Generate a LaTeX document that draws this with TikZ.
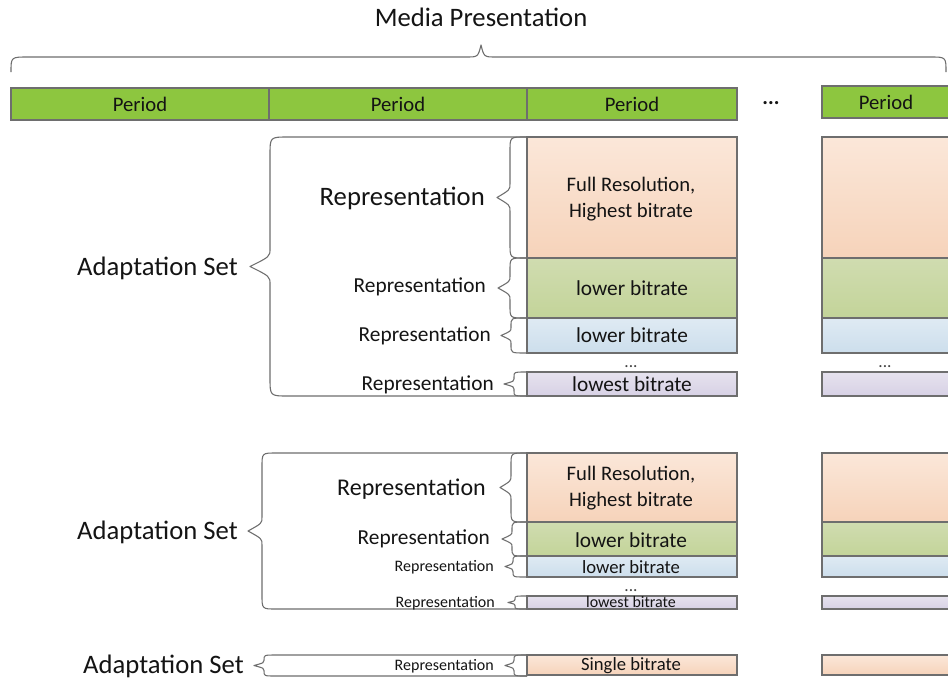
\documentclass[tikz,border=0pt]{standalone}
\usepackage{fontspec}
\setmainfont{Carlito}
\definecolor{pgreen}{RGB}{141,198,63}
\definecolor{ortop}{RGB}{251,231,217}
\definecolor{orbot}{RGB}{246,211,186}
\definecolor{grtop}{RGB}{208,220,176}
\definecolor{grbot}{RGB}{195,212,153}
\definecolor{bltop}{RGB}{223,234,243}
\definecolor{blbot}{RGB}{204,222,236}
\definecolor{putop}{RGB}{230,226,238}
\definecolor{pubot}{RGB}{215,209,229}
\definecolor{boxgray}{RGB}{110,110,110}
\definecolor{bracegray}{RGB}{110,110,110}
\definecolor{txt}{RGB}{20,20,20}
\newcommand{\fsz}[2]{\fontsize{#1}{#2}\selectfont}
\tikzset{
  braceline/.style={draw=bracegray, line width=0.8pt, line join=round},
  boxbase/.style={draw=boxgray, line width=0.9pt, inner sep=0pt, outer sep=0pt, anchor=north west},
  periodbox/.style={boxbase, fill=pgreen},
  orbox/.style={boxbase, top color=ortop, bottom color=orbot},
  grbox/.style={boxbase, top color=grtop, bottom color=grbot},
  blbox/.style={boxbase, top color=bltop, bottom color=blbot},
  pubox/.style={boxbase, top color=putop, bottom color=pubot},
  lbl/.style={text=txt, inner sep=0pt, anchor=east},
  boxtext/.style={text=txt, inner sep=0pt, align=center},
  dotstext/.style={text=txt!80, inner sep=0pt, font=\fsz{13}{14}},
}
% name, x1, y1, x2, y2, style
\newcommand{\rbox}[6]{%
  \node[#6, minimum width={(#4-#2)*0.75pt}, minimum height={(#5-#3)*0.75pt}] (#1) at (#2,#3) {};}
% xend, xv, xtip, ytop, ybot, rx, ry
\newcommand{\bracel}[7]{%
  \pgfmathsetmacro\bym{(#4+#5)/2}%
  \draw[braceline] (#1,#4) -- (#2+#6,#4) .. controls (#2,#4) .. (#2,#4+#7)
    -- (#2,\bym-#7) .. controls (#2,\bym-0.55*#7) .. (#3,\bym)
    .. controls (#2,\bym+0.55*#7) .. (#2,\bym+#7)
    -- (#2,#5-#7) .. controls (#2,#5) .. (#2+#6,#5) -- (#1,#5);}
\begin{document}
\begin{tikzpicture}[x=0.75pt, y=-0.75pt]
\useasboundingbox (0,0) rectangle (948,678);
\clip (0,0) rectangle (948,678);
\fill[white] (0,0) rectangle (948,678);

% title and top brace
\node[text=txt, inner sep=0pt, font=\fsz{20}{24}] (mp) at (481,17) {Media Presentation};
\draw[braceline] (11,72) .. controls (11,57) .. (28,57) -- (466,57)
  .. controls (478,57) .. (481,45) .. controls (484,57) .. (496,57)
  -- (930,57) .. controls (946,57) .. (946,72);

% periods
\rbox{p1}{11}{88}{269}{120}{periodbox}
\rbox{p2}{269}{88}{527}{120}{periodbox}
\rbox{p3}{527}{88}{737}{120}{periodbox}
\rbox{p4}{822}{86}{970}{118}{periodbox}
\node[boxtext, font=\fsz{15.5}{18}] at (p1.center) {Period};
\node[boxtext, font=\fsz{15.5}{18}] at (p2.center) {Period};
\node[boxtext, font=\fsz{15.5}{18}] at (p3.center) {Period};
\node[boxtext, font=\fsz{15.5}{18}] at (886,102) {Period};
\node[text=txt, inner sep=0pt, font=\fsz{16}{18}\bfseries] (pdots) at (771,103) {...};

% ---------- Adaptation set 1 ----------
\rbox{a1r1}{527}{137}{737}{258}{orbox}
\rbox{a1r2}{527}{258}{737}{318}{grbox}
\rbox{a1r3}{527}{318}{737}{353}{blbox}
\rbox{a1r4}{527}{372}{737}{396}{pubox}
\rbox{b1r1}{822}{137}{970}{258}{orbox}
\rbox{b1r2}{822}{258}{970}{318}{grbox}
\rbox{b1r3}{822}{318}{970}{353}{blbox}
\rbox{b1r4}{822}{372}{970}{396}{pubox}
\node[boxtext, font=\fsz{15.5}{19.5}] at (631,199) {Full Resolution,\\Highest bitrate};
\node[boxtext, font=\fsz{16}{19}] at (a1r2.center) {lower bitrate};
\node[boxtext, font=\fsz{16}{19}] at (a1r3.center) {lower bitrate};
\node[boxtext, font=\fsz{16}{19}] at (a1r4.center) {lowest bitrate};
\node[dotstext] (d1) at (631,367) {...};
\node[dotstext] (d1b) at (885,367) {...};

\bracel{527}{270}{250}{137}{396}{18}{18}
\node[lbl, font=\fsz{20}{24}] (as1) at (238,268) {Adaptation Set};
\bracel{527}{510}{497}{137}{258}{15}{14}
\bracel{527}{510}{498}{258}{318}{15}{12}
\bracel{527}{511}{501}{318}{353}{14}{8}
\bracel{527}{514}{504}{372}{396}{11}{5}
\node[lbl, font=\fsz{20}{24}] (a1l1) at (485,198) {Representation};
\node[lbl, font=\fsz{16}{19}] (a1l2) at (486,287) {Representation};
\node[lbl, font=\fsz{16}{19}] (a1l3) at (491,336) {Representation};
\node[lbl, font=\fsz{16}{19}] (a1l4) at (494,385) {Representation};

% ---------- Adaptation set 2 ----------
\rbox{a2r1}{527}{453}{737}{522}{orbox}
\rbox{a2r2}{527}{522}{737}{556}{grbox}
\rbox{a2r3}{527}{556}{737}{577}{blbox}
\rbox{a2r4}{527}{596}{737}{609}{pubox}
\rbox{b2r1}{822}{453}{970}{522}{orbox}
\rbox{b2r2}{822}{522}{970}{556}{grbox}
\rbox{b2r3}{822}{556}{970}{577}{blbox}
\rbox{b2r4}{822}{596}{970}{609}{pubox}
\node[boxtext, font=\fsz{15.5}{19.5}] at (631,488) {Full Resolution,\\Highest bitrate};
\node[boxtext, font=\fsz{16}{19}] at (631,540) {lower bitrate};
\node[boxtext, font=\fsz{14}{16}] at (631,567) {lower bitrate};
\node[boxtext, font=\fsz{12}{13}] at (631,602) {lowest bitrate};
\node[dotstext] (d2) at (631,591) {...};

\bracel{527}{262}{248}{453}{609}{14}{14}
\node[lbl, font=\fsz{20}{24}] (as2) at (238,532) {Adaptation Set};
\bracel{527}{511}{500}{453}{522}{14}{12}
\bracel{527}{512}{502}{522}{556}{13}{8}
\bracel{527}{513}{505}{556}{577}{12}{5}
\bracel{527}{515}{508}{596}{609}{10}{3}
\node[lbl, font=\fsz{18}{22}] (a2l1) at (486,489) {Representation};
\node[lbl, font=\fsz{16}{19}] (a2l2) at (490,539) {Representation};
\node[lbl, font=\fsz{12}{14}] (a2l3) at (494,567) {Representation};
\node[lbl, font=\fsz{12}{14}] (a2l4) at (495,603) {Representation};

% ---------- Adaptation set 3 ----------
\rbox{a3r1}{527}{655}{737}{675}{orbox}
\rbox{b3r1}{822}{655}{970}{675}{orbox}
\node[boxtext, font=\fsz{14}{16}] at (631,666) {Single bitrate};
\bracel{527}{264}{254}{655}{676}{12}{5}
\node[lbl, font=\fsz{20}{24}] (as3) at (244,666) {Adaptation Set};
\bracel{527}{514}{505}{655}{676}{11}{5}
\node[lbl, font=\fsz{12}{14}] (a3l1) at (494,666) {Representation};
\end{tikzpicture}
\end{document}
